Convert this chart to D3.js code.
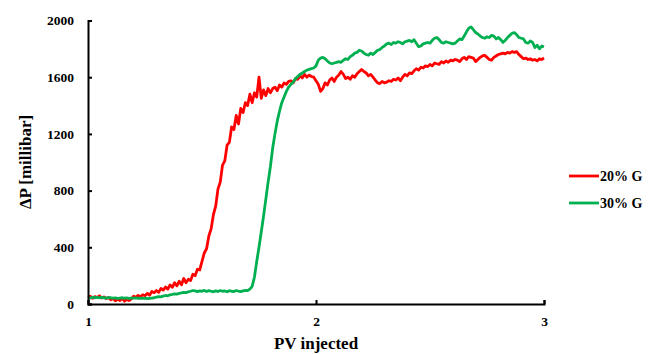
<!DOCTYPE html>
<html>
<head>
<meta charset="utf-8">
<script src="https://cdn.jsdelivr.net/npm/d3@7"></script>
<style>
  html, body { margin: 0; padding: 0; background: #fff; }
  svg { display: block; }
  text { font-family: "Liberation Serif", "Times New Roman", serif; font-weight: bold; fill: #000; }
</style>
</head>
<body>
<svg id="chart" width="652" height="354"></svg>
<script>
// Pore volumes injected (shared sampling for both runs)
const pvInjected = [
  1.00,1.01,1.02,1.03,1.04,1.05,1.06,1.07,1.08,1.09,
  1.10,1.11,1.12,1.13,1.14,1.15,1.16,1.17,1.18,1.19,
  1.20,1.21,1.22,1.23,1.24,1.25,1.26,1.27,1.28,1.29,
  1.30,1.31,1.32,1.33,1.34,1.35,1.36,1.37,1.38,1.39,
  1.40,1.41,1.42,1.43,1.44,1.45,1.46,1.47,1.48,1.49,
  1.50,1.51,1.52,1.53,1.54,1.55,1.56,1.57,1.58,1.59,
  1.60,1.61,1.62,1.63,1.64,1.65,1.66,1.67,1.68,1.69,
  1.70,1.71,1.72,1.73,1.74,1.75,1.76,1.77,1.78,1.79,
  1.80,1.81,1.82,1.83,1.84,1.85,1.86,1.87,1.88,1.89,
  1.90,1.91,1.92,1.93,1.94,1.95,1.96,1.97,1.98,1.99,
  2.00,2.01,2.02,2.03,2.04,2.05,2.06,2.07,2.08,2.09,
  2.10,2.11,2.12,2.13,2.14,2.15,2.16,2.17,2.18,2.19,
  2.20,2.21,2.22,2.23,2.24,2.25,2.26,2.27,2.28,2.29,
  2.30,2.31,2.32,2.33,2.34,2.35,2.36,2.37,2.38,2.39,
  2.40,2.41,2.42,2.43,2.44,2.45,2.46,2.47,2.48,2.49,
  2.50,2.51,2.52,2.53,2.54,2.55,2.56,2.57,2.58,2.59,
  2.60,2.61,2.62,2.63,2.64,2.65,2.66,2.67,2.68,2.69,
  2.70,2.71,2.72,2.73,2.74,2.75,2.76,2.77,2.78,2.79,
  2.80,2.81,2.82,2.83,2.84,2.85,2.86,2.87,2.88,2.89,
  2.90,2.91,2.92,2.93,2.94,2.95,2.96,2.97,2.98,2.99,
  3.00
];

// Differential pressure, millibar — 20% G
const dp20 = [
  48,55,40,52,45,58,42,50,38,46,
  30,38,22,35,25,40,20,32,24,36,
  55,48,60,52,65,58,75,62,88,80,
  95,82,110,98,120,105,135,118,150,128,
  160,135,180,150,175,165,210,200,245,240,
  300,360,390,480,530,630,690,810,860,980,
  1010,1120,1140,1250,1230,1330,1270,1380,1350,1420,
  1400,1480,1420,1490,1460,1600,1450,1510,1470,1520,
  1490,1520,1530,1505,1545,1530,1560,1550,1570,1575,
  1560,1590,1585,1610,1595,1620,1600,1615,1605,1600,
  1575,1550,1500,1520,1560,1545,1580,1595,1570,1600,
  1615,1640,1620,1590,1600,1585,1610,1600,1625,1640,
  1655,1640,1630,1610,1620,1600,1580,1560,1555,1570,
  1560,1565,1575,1570,1585,1580,1595,1575,1600,1620,
  1610,1630,1625,1645,1660,1650,1670,1665,1680,1675,
  1690,1680,1700,1695,1690,1710,1700,1715,1705,1720,
  1715,1725,1720,1710,1730,1740,1725,1745,1740,1735,
  1710,1725,1740,1750,1755,1740,1725,1720,1740,1750,
  1760,1765,1770,1765,1775,1770,1780,1775,1780,1760,
  1745,1730,1735,1725,1730,1720,1725,1715,1730,1725,
  1735
];

// Differential pressure, millibar — 30% G
const dp30 = [
  45,42,48,44,46,43,47,44,42,45,
  44,41,43,40,42,44,41,43,40,42,
  41,43,40,42,39,41,38,40,42,44,
  48,52,50,56,60,58,65,68,72,70,
  75,78,82,80,86,90,95,92,88,92,
  90,96,88,94,90,86,93,88,95,90,
  92,86,94,90,88,95,90,87,93,96,
  95,105,125,190,300,400,510,620,740,860,
  970,1100,1200,1290,1360,1420,1460,1500,1530,1550,
  1565,1590,1605,1620,1630,1640,1650,1655,1660,1665,
  1680,1720,1735,1740,1730,1715,1700,1695,1700,1705,
  1710,1705,1720,1730,1725,1745,1755,1770,1775,1790,
  1785,1770,1760,1755,1770,1760,1775,1790,1795,1810,
  1820,1835,1840,1830,1845,1840,1850,1845,1835,1850,
  1855,1860,1850,1865,1840,1815,1820,1835,1840,1845,
  1840,1860,1875,1880,1865,1845,1840,1850,1845,1840,
  1835,1840,1855,1870,1865,1890,1920,1945,1955,1935,
  1915,1905,1890,1880,1875,1885,1880,1895,1890,1870,
  1880,1865,1845,1860,1880,1895,1910,1915,1900,1880,
  1875,1870,1845,1840,1855,1845,1810,1825,1800,1820,
  1815
];

const seriesNames = ["20% G", "30% G"];
const seriesColors = ["#ff0000", "#00b050"];
const xTicks = [1, 2, 3];
const yTicks = [0, 400, 800, 1200, 1600, 2000];

const svg = d3.select("#chart");
const plot = { left: 88, right: 544, top: 20.5, bottom: 304 };

const x = d3.scaleLinear().domain([1, 3]).range([plot.left, plot.right]);
const y = d3.scaleLinear().domain([0, 2000]).range([plot.bottom, plot.top]);

const series = [dp20, dp30].map((vals, i) => ({
  name: seriesNames[i],
  color: seriesColors[i],
  points: pvInjected.map((pv, j) => [pv, vals[j]])
}));

const line = d3.line().x(d => x(d[0])).y(d => y(d[1]));

// data lines
svg.append("g").selectAll("path")
  .data(series)
  .join("path")
  .attr("fill", "none")
  .attr("stroke", d => d.color)
  .attr("stroke-width", 2.8)
  .attr("stroke-linejoin", "round")
  .attr("d", d => line(d.points));

// x axis (ticks point into the plot)
const xAxis = svg.append("g")
  .attr("transform", `translate(0,${plot.bottom})`)
  .call(d3.axisBottom(x).tickValues(xTicks).tickSize(-4).tickPadding(12).tickFormat(d3.format("d")));

// y axis
const yAxis = svg.append("g")
  .attr("transform", `translate(${plot.left},0)`)
  .call(d3.axisLeft(y).tickValues(yTicks).tickSize(-4).tickPadding(14).tickFormat(d3.format("d")));

[xAxis, yAxis].forEach(g => {
  g.select(".domain").attr("stroke", "#000").attr("stroke-width", 2);
  g.selectAll(".tick line").attr("stroke", "#000").attr("stroke-width", 2);
  g.selectAll(".tick text")
    .style("font-family", "'Liberation Serif', 'Times New Roman', serif")
    .style("font-weight", "bold")
    .style("font-size", "13.5px")
    .attr("fill", "#000");
});

// axis titles
svg.append("text")
  .attr("x", 316)
  .attr("y", 349)
  .attr("text-anchor", "middle")
  .style("font-size", "17px")
  .text("PV injected");

svg.append("text")
  .attr("transform", "translate(31,162) rotate(-90)")
  .attr("text-anchor", "middle")
  .style("font-size", "17px")
  .text("ΔP [millibar]");

// legend
const legend = svg.append("g").selectAll("g")
  .data(series)
  .join("g")
  .attr("transform", (d, i) => `translate(569,${176 + i * 27})`);

legend.append("line")
  .attr("x1", 0).attr("x2", 30)
  .attr("stroke", d => d.color)
  .attr("stroke-width", 2.8);

legend.append("text")
  .attr("x", 31)
  .attr("y", 5)
  .style("font-size", "14px")
  .text(d => d.name);
</script>
</body>
</html>
